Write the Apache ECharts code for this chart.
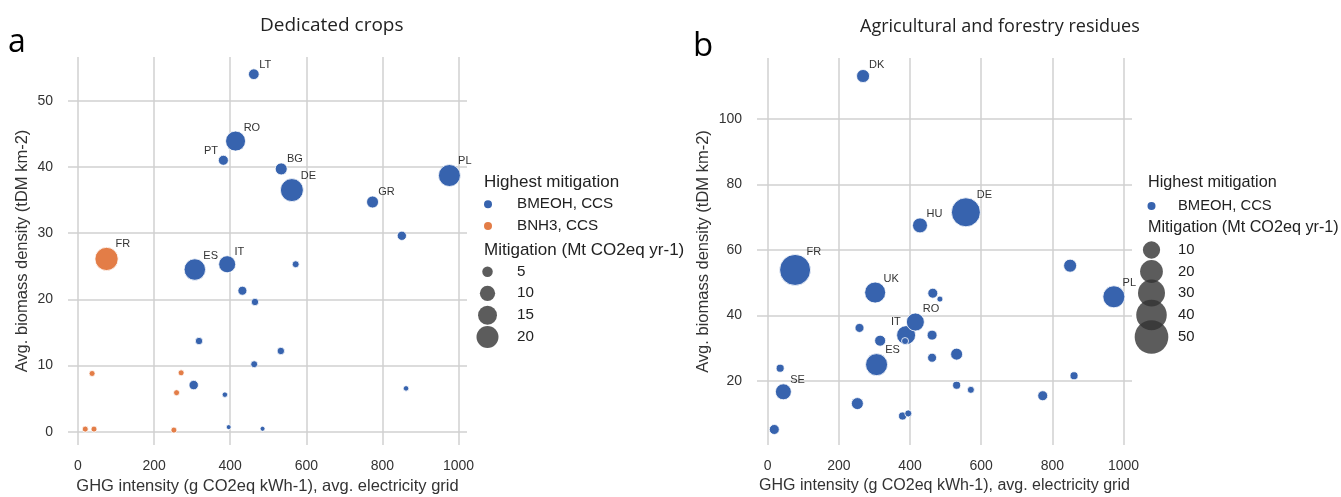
<!DOCTYPE html>
<html lang="en">
<head>
<meta charset="UTF-8">
<title>Highest mitigation vs biomass density</title>
<style>
    html, body { margin: 0; padding: 0; background: #fff; }
    #chart { width: 1341px; height: 497px; }
</style>
</head>
<body>
<div id="chart"></div>
<script src="https://cdn.jsdelivr.net/npm/echarts@6/dist/echarts.min.js"></script>
<script>
// tick values
var xTicks = [0, 200, 400, 600, 800, 1000];
var yTicksCrops = [0, 10, 20, 30, 40, 50];
var yTicksResidues = [20, 40, 60, 80, 100];

// [GHG intensity, avg. biomass density, mitigation (Mt CO2eq/yr), country]
var cropsBmeoh = [
    [462, 54.0, 5.2, 'LT'],
    [414, 43.9, 16.7, 'RO'],
    [382, 41.0, 4.6, 'PT'],
    [534, 39.7, 6.4, 'BG'],
    [562, 36.5, 21.8, 'DE'],
    [774, 34.7, 6.4, 'GR'],
    [976, 38.7, 20.0, 'PL'],
    [851, 29.6, 4.0, ''],
    [307, 24.5, 19.1, 'ES'],
    [392, 25.3, 12.3, 'IT'],
    [572, 25.3, 2.4, ''],
    [432, 21.3, 3.8, ''],
    [465, 19.6, 2.7, ''],
    [318, 13.7, 2.7, ''],
    [533, 12.2, 2.7, ''],
    [463, 10.2, 2.4, ''],
    [304, 7.05, 4.1, ''],
    [386, 5.6, 1.6, ''],
    [862, 6.55, 1.6, ''],
    [396, 0.7, 1.36, ''],
    [485, 0.45, 1.36, '']
];
var cropsBnh3 = [
    [75, 26.1, 22.2, 'FR'],
    [37, 8.8, 1.85, ''],
    [271, 8.9, 1.85, ''],
    [259, 5.9, 1.85, ''],
    [19, 0.4, 1.85, ''],
    [42, 0.4, 1.85, ''],
    [252, 0.25, 1.85, '']
];
var residuesBmeoh = [
    [268, 113.1, 4.6, 'DK'],
    [428, 67.5, 6.8, 'HU'],
    [557, 71.5, 35.5, 'DE'],
    [77, 53.9, 41.4, 'FR'],
    [302, 47.0, 16.4, 'UK'],
    [850, 55.2, 4.6, ''],
    [973, 45.7, 18.4, 'PL'],
    [464, 46.8, 2.0, ''],
    [484, 45.0, 0.22, ''],
    [389, 34.0, 12.7, 'IT'],
    [415, 38.0, 11.1, 'RO'],
    [386, 32.2, 0.5, ''],
    [258, 36.2, 1.4, ''],
    [316, 32.3, 2.75, ''],
    [462, 34.0, 2.0, ''],
    [462, 27.1, 1.4, ''],
    [531, 28.2, 3.6, ''],
    [306, 25.0, 18.4, 'ES'],
    [35, 23.9, 0.9, ''],
    [44, 16.7, 8.1, 'SE'],
    [861, 21.6, 0.9, ''],
    [531, 18.7, 0.9, ''],
    [571, 17.3, 0.5, ''],
    [773, 15.5, 2.0, ''],
    [252, 13.1, 3.6, ''],
    [379, 9.3, 0.9, ''],
    [395, 10.1, 0.5, ''],
    [18.5, 5.2, 2.0, '']
];

var sizeLegendCrops = [5, 10, 15, 20];
var sizeLegendResidues = [10, 20, 30, 40, 50];

// labels drawn on the left of their point
var leftLabelsCrops = ['PT'];
var leftLabelsResidues = ['IT'];

var FONT = 'Arial, "Liberation Sans", sans-serif';
var TFONT = '"Open Sans", "Noto Sans", sans-serif';
var BLUE = '#3763ae', ORANGE = '#e37d47', DARK = '#333333', GRIDC = '#d0d0d0';

// marker diameter from mitigation
function sizeCrops(v) { return -1 + 5.14 * Math.sqrt(v); }
function sizeResidues(v) { return 4.05 + 4.19 * Math.sqrt(v); }

function toItems(rows, sizeFn, leftList) {
    return rows.map(function (r) {
        var d = sizeFn(r[2]), rad = d / 2;
        var onLeft = leftList.indexOf(r[3]) >= 0;
        return {
            name: r[3],
            value: [r[0], r[1], r[2]],
            symbolSize: d,
            label: {
                show: r[3] !== '',
                formatter: '{b}',
                position: onLeft ? [rad - 5, 0.2 * rad - 5] : [1.6 * rad + 2.5, 0.2 * rad - 5],
                align: onLeft ? 'right' : 'left',
                verticalAlign: 'middle',
                fontSize: 11,
                fontFamily: FONT,
                color: '#333'
            }
        };
    });
}

function plain(v) { return String(v); }

function xAxis(idx, min, max, nameFs) {
    return {
        type: 'value', gridIndex: idx, min: min, max: max,
        name: 'GHG intensity (g CO2eq kWh-1), avg. electricity grid',
        nameLocation: 'middle', nameGap: 33,
        nameTextStyle: { fontSize: nameFs, color: '#333', fontFamily: FONT },
        axisLine: { show: false },
        axisTick: { show: false, customValues: xTicks },
        axisLabel: { customValues: xTicks, formatter: plain, margin: 14, fontSize: 14, color: '#333', fontFamily: FONT },
        splitLine: { show: true, lineStyle: { color: GRIDC, width: 1.5 } }
    };
}
function yAxis(idx, min, max, ticks, gap) {
    return {
        type: 'value', gridIndex: idx, min: min, max: max,
        name: 'Avg. biomass density (tDM km-2)',
        nameLocation: 'middle', nameGap: gap,
        nameTextStyle: { fontSize: 16.5, color: '#333', fontFamily: FONT },
        axisLine: { show: false },
        axisTick: { show: false, customValues: ticks },
        axisLabel: { customValues: ticks, formatter: plain, margin: 15, fontSize: 14, color: '#333', fontFamily: FONT },
        splitLine: { show: true, lineStyle: { color: GRIDC, width: 1.5 } }
    };
}

function txt(text, left, top, fs, family, color) {
    return {
        text: text, left: left, top: top, padding: 0,
        textStyle: { fontSize: fs, fontWeight: 'normal', fontFamily: family, color: color || '#222' }
    };
}
// legend text, given its vertical centre
function ltxt(text, left, cy, fs) { return txt(text, left, cy - fs / 2, fs, FONT); }

// one legend component per marker so each can have its own size;
// the text is drawn as a title next to it
function legendIcon(name, cx, cy, d) {
    return {
        data: [name], left: cx - d / 2, top: cy - d / 2,
        padding: 0, itemGap: 0, icon: 'circle', selectedMode: false,
        itemWidth: d, itemHeight: d,
        itemStyle: { borderWidth: 0 },
        formatter: function () { return ''; },
        textStyle: { fontSize: 1 }
    };
}

var titles = [
    txt('a', 8, 27, 32, TFONT, '#000'),
    txt('b', 693, 30, 33, TFONT, '#000'),
    txt('Dedicated crops', 260, 16, 19, TFONT),
    txt('Agricultural and forestry residues', 860, 18, 18, TFONT),
    ltxt('Highest mitigation', 484, 182.5, 17),
    ltxt('BMEOH, CCS', 517, 204.3, 15.2),
    ltxt('BNH3, CCS', 517, 226, 15.2),
    ltxt('Mitigation (Mt CO2eq yr-1)', 484, 250, 17),
    ltxt('Highest mitigation', 1148, 183, 16.2),
    ltxt('BMEOH, CCS', 1178, 206, 14.8),
    ltxt('Mitigation (Mt CO2eq yr-1)', 1148, 228, 16.2)
];

var legends = [
    legendIcon('BMEOH, CCS', 488, 204.3, 8),
    legendIcon('BNH3, CCS', 488, 226, 8),
    legendIcon('BMEOH, CCS', 1151.5, 206, 8)
];
var cropsCy = [271.7, 293.3, 315.3, 337];
sizeLegendCrops.forEach(function (v, i) {
    legends.push(legendIcon(String(v), 487.5, cropsCy[i], sizeCrops(v)));
    titles.push(ltxt(String(v), 517, cropsCy[i], 15.2));
});
var resCy = [250, 271.5, 293, 315, 337];
sizeLegendResidues.forEach(function (v, i) {
    legends.push(legendIcon(String(v), 1151.5, resCy[i], sizeResidues(v)));
    titles.push(ltxt(String(v), 1178, resCy[i], 14.8));
});

var series = [
    {
        name: 'BMEOH, CCS', type: 'scatter', xAxisIndex: 0, yAxisIndex: 0,
        itemStyle: { color: BLUE, borderColor: '#fff', borderWidth: 0.8, opacity: 1 },
        emphasis: { disabled: true },
        data: toItems(cropsBmeoh, sizeCrops, leftLabelsCrops)
    },
    {
        name: 'BNH3, CCS', type: 'scatter', xAxisIndex: 0, yAxisIndex: 0,
        itemStyle: { color: ORANGE, borderColor: '#fff', borderWidth: 0.8, opacity: 1 },
        emphasis: { disabled: true },
        data: toItems(cropsBnh3, sizeCrops, leftLabelsCrops)
    },
    {
        name: 'BMEOH, CCS', type: 'scatter', xAxisIndex: 1, yAxisIndex: 1,
        itemStyle: { color: BLUE, borderColor: '#fff', borderWidth: 0.8, opacity: 1 },
        emphasis: { disabled: true },
        data: toItems(residuesBmeoh, sizeResidues, leftLabelsResidues)
    }
];
// empty series that only feed the size legends
var sizeNames = [];
sizeLegendCrops.concat(sizeLegendResidues).forEach(function (v) {
    if (sizeNames.indexOf(String(v)) < 0) sizeNames.push(String(v));
});
sizeNames.forEach(function (n) {
    series.push({ name: n, type: 'scatter', xAxisIndex: 0, yAxisIndex: 0, data: [],
        itemStyle: { color: DARK } });
});

var chart = echarts.init(document.getElementById('chart'));
chart.setOption({
    animation: false,
    backgroundColor: '#fff',
    title: titles,
    legend: legends,
    grid: [
        { left: 68, top: 57, width: 399, height: 388, outerBoundsMode: 'none', containLabel: false },
        { left: 757, top: 58, width: 375, height: 387, outerBoundsMode: 'none', containLabel: false }
    ],
    xAxis: [xAxis(0, -26.3, 1022.2, 16.5), xAxis(1, -30.1, 1023.9, 16)],
    yAxis: [yAxis(0, -2.0, 56.6, yTicksCrops, 37), yAxis(1, 0.46, 118.6, yTicksResidues, 45)],
    series: series
});
</script>
</body>
</html>
